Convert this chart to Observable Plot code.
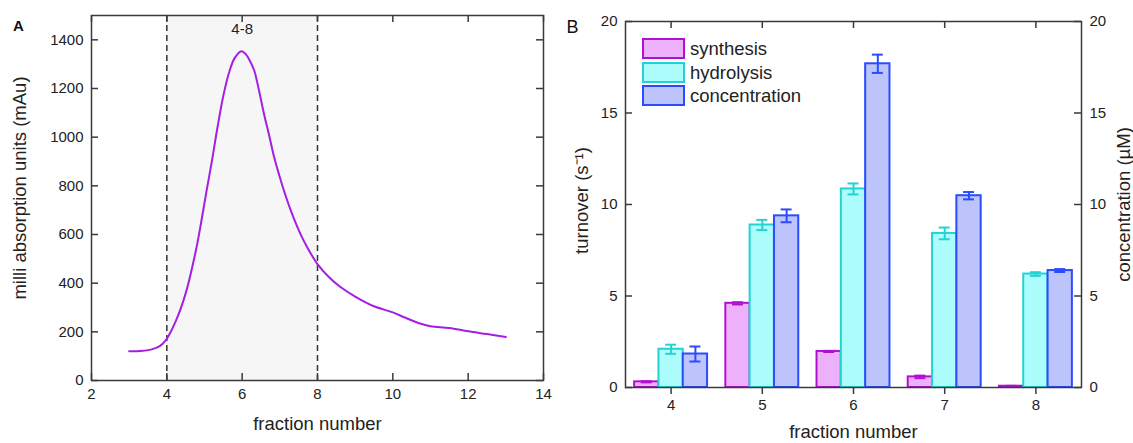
<!DOCTYPE html>
<html>
<head>
<meta charset="utf-8">
<script src="https://cdn.jsdelivr.net/npm/d3@7"></script>
<script src="https://cdn.jsdelivr.net/npm/@observablehq/plot@0.6"></script>
<style>
  body { margin: 0; background: #fff; font-family: "Liberation Sans", Arial, sans-serif; }
  #wrap { position: relative; width: 1133px; height: 443px; overflow: hidden; background: #fff; }
  .panel { position: absolute; top: 0; }
  .lg-row { position: absolute; height: 21px; display: flex; align-items: center; }
  .lg-box { width: 43px; height: 21px; box-sizing: border-box; border: 2px solid; }
  .lg-txt { margin-left: 5px; font-size: 18.5px; color: #222; line-height: 21px; }
</style>
</head>
<body>
<div id="wrap"></div>
<script>
// ---------- Panel A data (elution profile) ----------
const fractionA   = [3.0, 3.3, 3.6, 3.8, 3.97, 4.24, 4.5, 4.77, 4.9, 5.05, 5.2, 5.35, 5.5, 5.65, 5.8, 5.98,
                     6.1, 6.2, 6.32, 6.45, 6.58, 6.72, 6.85, 7.0, 7.11, 7.3, 7.47, 7.6, 7.73, 8.0,
                     8.3, 8.6, 9.0, 9.5, 10.0, 10.3, 10.7, 11.0, 11.5, 12.0, 12.5, 13.0];
const absorbanceA = [120, 121, 128, 140, 165, 245, 358, 533, 640, 775, 905, 1045, 1170, 1265, 1325, 1353,
                     1340, 1315, 1274, 1190, 1095, 1005, 917, 835, 780, 695, 629, 585, 547, 478,
                     425, 385, 345, 305, 280, 260, 235, 223, 216, 202, 191, 179];
const poolRange = [4, 8];
const poolLabel = "4-8";
const xTicksA = [2, 4, 6, 8, 10, 12, 14];
const yTicksA = [0, 200, 400, 600, 800, 1000, 1200, 1400];
const xDomainA = [2, 14];
const yDomainA = [0, 1500];

// ---------- Panel B data (activities per fraction) ----------
const fractions = [4, 5, 6, 7, 8];
const seriesNames = ["synthesis", "hydrolysis", "concentration"];
const synthesis        = [0.31, 4.60, 1.97, 0.58, 0.07];
const synthesisErr     = [0.03, 0.06, 0.03, 0.07, 0.02];
const hydrolysis       = [2.09, 8.88, 10.85, 8.42, 6.20];
const hydrolysisErr    = [0.25, 0.28, 0.30, 0.32, 0.10];
const concentration    = [1.83, 9.38, 17.69, 10.48, 6.39];
const concentrationErr = [0.41, 0.35, 0.50, 0.20, 0.08];
const yTicksB = [0, 5, 10, 15, 20];
const xDomainB = [3.5, 8.5];
const yDomainB = [0, 20];

const fills   = ["#edb1fb", "#adfdfd", "#bcc4fb"];
const strokes = ["#b010d0", "#22d3d3", "#2a4bff"];

const FONT = "'Liberation Sans', Arial, sans-serif";
const INK = "#3a3a3a";
const H = 443;
const wrap = document.getElementById("wrap");
const plain = d => String(d);

// ---------- Panel A ----------
{
  const W = 560, ml = 91, mr = 17, mt = 15, mb = 63;
  const iw = W - ml - mr, ih = H - mt - mb;
  const curve = fractionA.map((x, i) => ({x, y: absorbanceA[i]}));
  const p = Plot.plot({
    width: W, height: H, marginLeft: ml, marginRight: mr, marginTop: mt, marginBottom: mb,
    x: {domain: xDomainA},
    y: {domain: yDomainA},
    style: {fontFamily: FONT, fontSize: "15px", color: "#222", background: "transparent", overflow: "visible"},
    marks: [
      Plot.rect([poolRange], {x1: d => d[0], x2: d => d[1], y1: () => yDomainA[0], y2: () => yDomainA[1], fill: "#f6f6f6"}),
      Plot.ruleX(poolRange, {x: d => d, stroke: "#333", strokeWidth: 1.5, strokeDasharray: "6,4"}),
      Plot.line(curve, {x: "x", y: "y", curve: "catmull-rom", stroke: "#a51fe3", strokeWidth: 2}),
      Plot.text([poolLabel], {x: () => (poolRange[0] + poolRange[1]) / 2, frameAnchor: "top", lineAnchor: "middle", dy: 14, text: d => d, fontSize: 15, fill: "#222"}),
      Plot.frame({stroke: INK, strokeWidth: 1.5}),
      Plot.tickY(yTicksA, {y: d => d, insetRight: iw - 7, stroke: INK, strokeWidth: 1.5}),
      Plot.tickY(yTicksA, {y: d => d, insetLeft: iw - 7, stroke: INK, strokeWidth: 1.5}),
      Plot.tickX(xTicksA, {x: d => d, insetBottom: ih - 7, stroke: INK, strokeWidth: 1.5}),
      Plot.tickX(xTicksA, {x: d => d, insetTop: ih - 7, stroke: INK, strokeWidth: 1.5}),
      Plot.axisX(xTicksA, {anchor: "bottom", tickSize: 0, tickPadding: 8, label: null, tickFormat: plain}),
      Plot.axisY(yTicksA, {anchor: "left", tickSize: 0, tickPadding: 8, label: null, tickFormat: plain}),
      Plot.text(["fraction number"], {frameAnchor: "bottom", lineAnchor: "middle", dy: 44, text: d => d, fontSize: 18.5, fill: "#222"}),
      Plot.text(["milli absorption units (mAu)"], {frameAnchor: "left", textAnchor: "middle", lineAnchor: "middle", rotate: -90, dx: -71, dy: -10, text: d => d, fontSize: 18.5, fill: "#222"}),
      Plot.text(["A"], {frameAnchor: "top-left", textAnchor: "middle", lineAnchor: "middle", dx: -73, dy: 11, text: d => d, fontSize: 15, fontWeight: "bold", fill: "#111"})
    ]
  });
  p.classList.add("panel");
  p.style.left = "0px";
  wrap.appendChild(p);
}

// ---------- Panel B ----------
{
  const W = 573, ml = 65, mr = 52, mt = 21, mb = 56;
  const iw = W - ml - mr, ih = H - mt - mb;
  const values = [synthesis, hydrolysis, concentration];
  const errs = [synthesisErr, hydrolysisErr, concentrationErr];
  const groupW = 0.8, barW = groupW / 3, capHalf = 0.06;
  const barMarks = [];
  values.forEach((vals, j) => {
    const center = f => f - groupW / 2 + (j + 0.5) * barW;
    barMarks.push(
      Plot.rect(fractions, {
        x1: f => f - groupW / 2 + j * barW,
        x2: f => f - groupW / 2 + (j + 1) * barW,
        y1: () => 0,
        y2: (f, i) => vals[i],
        fill: fills[j], stroke: strokes[j], strokeWidth: 2
      }),
      Plot.ruleX(fractions, {x: center, y1: (f, i) => vals[i] - errs[j][i], y2: (f, i) => vals[i] + errs[j][i], stroke: strokes[j], strokeWidth: 2}),
      Plot.ruleY(fractions, {y: (f, i) => vals[i] + errs[j][i], x1: f => center(f) - capHalf, x2: f => center(f) + capHalf, stroke: strokes[j], strokeWidth: 2}),
      Plot.ruleY(fractions, {y: (f, i) => vals[i] - errs[j][i], x1: f => center(f) - capHalf, x2: f => center(f) + capHalf, stroke: strokes[j], strokeWidth: 2})
    );
  });
  const p = Plot.plot({
    width: W, height: H, marginLeft: ml, marginRight: mr, marginTop: mt, marginBottom: mb,
    x: {domain: xDomainB},
    y: {domain: yDomainB},
    style: {fontFamily: FONT, fontSize: "15px", color: "#222", background: "transparent", overflow: "visible"},
    marks: [
      ...barMarks,
      Plot.frame({stroke: INK, strokeWidth: 1.5}),
      Plot.tickY(yTicksB, {y: d => d, insetRight: iw - 7, stroke: INK, strokeWidth: 1.5}),
      Plot.tickY(yTicksB, {y: d => d, insetLeft: iw - 7, stroke: INK, strokeWidth: 1.5}),
      Plot.tickX(fractions, {x: d => d, insetBottom: ih - 7, stroke: INK, strokeWidth: 1.5}),
      Plot.axisX(fractions, {anchor: "bottom", tickSize: 7, tickPadding: 5, label: null, stroke: INK, strokeWidth: 1.5, tickFormat: plain}),
      Plot.axisY(yTicksB, {anchor: "left", tickSize: 0, tickPadding: 8, label: null, tickFormat: plain}),
      Plot.axisY(yTicksB, {anchor: "right", tickSize: 0, tickPadding: 8, label: null, tickFormat: plain}),
      Plot.text(["fraction number"], {frameAnchor: "bottom", lineAnchor: "middle", dy: 45, text: d => d, fontSize: 18.5, fill: "#222"}),
      Plot.text(["turnover (s\u207B\u00B9)"], {frameAnchor: "left", textAnchor: "middle", lineAnchor: "middle", rotate: -90, dx: -43, dy: -4, text: d => d, fontSize: 18.5, fill: "#222"}),
      Plot.text(["concentration (\u00B5M)"], {frameAnchor: "right", textAnchor: "middle", lineAnchor: "middle", rotate: -90, dx: 43, dy: 0, text: d => d, fontSize: 18.5, fill: "#222"}),
      Plot.text(["B"], {frameAnchor: "top-left", textAnchor: "middle", lineAnchor: "middle", dx: -53, dy: 6, text: d => d, fontSize: 18, fill: "#111"})
    ]
  });
  p.classList.add("panel");
  p.style.left = "560px";
  wrap.appendChild(p);

  // legend
  const legendTops = [38, 61.5, 85];
  seriesNames.forEach((name, j) => {
    const row = document.createElement("div");
    row.className = "lg-row";
    row.style.left = "642px";
    row.style.top = legendTops[j] + "px";
    const box = document.createElement("div");
    box.className = "lg-box";
    box.style.background = fills[j];
    box.style.borderColor = strokes[j];
    const txt = document.createElement("span");
    txt.className = "lg-txt";
    txt.textContent = name;
    row.appendChild(box);
    row.appendChild(txt);
    wrap.appendChild(row);
  });
}
</script>
</body>
</html>
